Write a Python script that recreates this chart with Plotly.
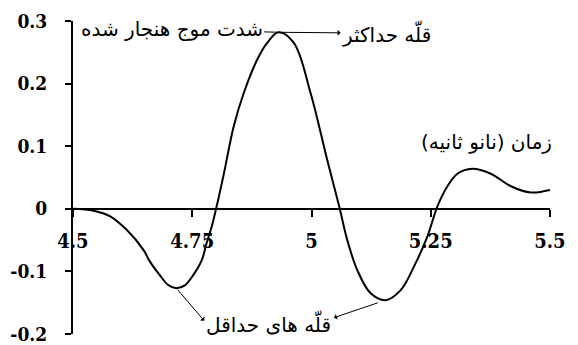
import plotly.graph_objects as go

# time (ns) and normalized wave intensity
time_ns = [4.5, 4.543, 4.578, 4.613, 4.648, 4.661, 4.682, 4.700, 4.717, 4.735,
           4.752, 4.770, 4.780, 4.791, 4.800, 4.816, 4.837, 4.858, 4.886, 4.907,
           4.931, 4.963, 4.998, 5.033, 5.058, 5.075, 5.096, 5.124, 5.155, 5.187,
           5.215, 5.243, 5.264, 5.285, 5.306, 5.337, 5.376, 5.418, 5.460, 5.5]
amplitude = [0, -0.003, -0.012, -0.034, -0.066, -0.084, -0.106, -0.122, -0.127, -0.122,
             -0.106, -0.082, -0.055, -0.028, 0, 0.055, 0.132, 0.185, 0.238, 0.265,
             0.282, 0.265, 0.185, 0.078, 0.004, -0.050, -0.098, -0.135, -0.146, -0.130,
             -0.092, -0.044, 0.004, 0.036, 0.056, 0.064, 0.056, 0.036, 0.026, 0.030]

x_ticks = [4.5, 4.75, 5, 5.25, 5.5]
x_tick_labels = ["4.5", "4.75", "5", "5.25", "5.5"]
y_ticks = [-0.2, -0.1, 0, 0.1, 0.2, 0.3]
y_tick_labels = ["-0.2", "-0.1", "0", "0.1", "0.2", "0.3"]

y_title = "شدت موج هنجار شده"
x_title = "زمان (نانو ثانیه)\u200f"
max_label = "قلّه حداکثر"
min_label = "قلّه های حداقل"

i_max = amplitude.index(max(amplitude))
i_min1 = amplitude.index(min(amplitude[:15]))
i_min2 = amplitude.index(min(amplitude))

fig = go.Figure()
fig.add_trace(go.Scatter(
    x=time_ns, y=amplitude, mode="lines",
    line=dict(color="black", width=2, shape="spline", smoothing=1.0),
    hoverinfo="skip", showlegend=False, cliponaxis=False))

serif = "DejaVu Serif Condensed, DejaVu Serif, serif"
fa_font = dict(family="DejaVu Sans", size=20, color="black")

fig.update_layout(
    width=570, height=337,
    margin=dict(l=65, r=28, t=13, b=11),
    paper_bgcolor="white", plot_bgcolor="white",
    xaxis=dict(range=[4.5, 5.5], tickvals=x_ticks, ticktext=x_tick_labels,
               anchor="free", position=0.4, showline=True, linecolor="black",
               linewidth=2, ticks="outside", ticklen=7, tickwidth=1.5,
               tickcolor="black", showgrid=False, zeroline=False, automargin=False,
               tickfont=dict(family=serif, size=20, color="black", weight="bold"),
               ticklabelstandoff=7),
    yaxis=dict(range=[-0.2, 0.3], tickvals=y_ticks, ticktext=y_tick_labels,
               showline=True, linecolor="black", linewidth=2, ticks="outside",
               ticklen=6, tickwidth=1.5, tickcolor="black", showgrid=False,
               zeroline=False, automargin=False,
               tickfont=dict(family=serif, size=19, color="black", weight="bold"),
               ticklabelstandoff=14),
)

annotations = [
    # y-axis title, joined by a line to the maximum
    dict(x=time_ns[i_max], y=amplitude[i_max], xref="x", yref="y",
         text=y_title, font=fa_font, showarrow=True, arrowhead=0, arrowwidth=1,
         arrowcolor="black", ax=-107, ay=-3),
    # maximum peak label
    dict(x=time_ns[i_max], y=amplitude[i_max], xref="x", yref="y",
         text=max_label, font=fa_font, showarrow=True, arrowhead=2, arrowsize=0.8,
         arrowwidth=1, arrowside="start", arrowcolor="black", ax=108, ay=1),
    # x-axis title
    dict(x=5.366, y=0.106, xref="x", yref="y", text=x_title, font=fa_font,
         showarrow=False),
    # minima label
    dict(x=4.909, y=-0.184, xref="x", yref="y", text=min_label, font=fa_font,
         showarrow=False),
    dict(x=time_ns[i_min1], y=amplitude[i_min1], xref="x", yref="y", text="",
         showarrow=True, arrowhead=2, arrowsize=0.8, arrowwidth=1,
         arrowside="start", arrowcolor="black", ax=29, ay=34, standoff=2),
    dict(x=time_ns[i_min2], y=amplitude[i_min2], xref="x", yref="y", text="",
         showarrow=True, arrowhead=2, arrowsize=0.8, arrowwidth=1,
         arrowside="start", arrowcolor="black", ax=-53, ay=18, standoff=8),
]
fig.update_layout(annotations=annotations)

fig.write_html("out.html")
